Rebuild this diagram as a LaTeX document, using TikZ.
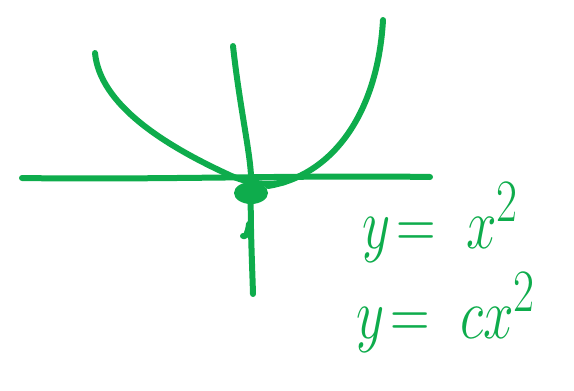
\documentclass[tikz,border=0pt]{standalone}
\usepackage{graphicx}
\definecolor{penGreen}{RGB}{14,172,76}
\newcommand{\bigInk}[1]{\scalebox{2.2}[2.9]{\Huge #1}}
\tikzset{
  pen/.style={draw=penGreen, line width=6pt, line cap=round, line join=round},
  ink/.style={text=penGreen, inner sep=0pt, anchor=base west}
}
\begin{document}
\begin{tikzpicture}[x=1pt, y=-1pt]
				\useasboundingbox (0,0) rectangle (574,391);
				\coordinate (O) at (251,182);
				\coordinate (XL) at (22,178);
				\coordinate (XR) at (430,177);
				\coordinate (YT) at (233,46);
				\coordinate (YB) at (253,294);
				\coordinate (PL) at (95,53);
				\coordinate (PR) at (383,20);
				% axes
				\draw[pen] (XL) .. controls (150,180) and (300,175) .. (XR);
				\draw[pen] (YT) .. controls (240,110) and (252,160) .. (O) .. controls (250,220) and (252,260) .. (YB);
				% parabola
				\draw[pen] (PL) .. controls (100,105) and (165,145) .. (225,173) .. controls (245,183) and (265,186) .. (285,182);
				\draw[pen] (268,186) .. controls (335,175) and (378,110) .. (PR);
				% blob at origin
				\fill[penGreen] (251,193) ellipse (17pt and 11pt);
				\draw[pen] (249,224) .. controls (248,232) and (246,238) .. (243,236);
				% labels
				\node[ink] (eqA) at (362,248) {\bigInk{$y\!=\;x^{2}$}};
				\node[ink] (eqB) at (356,338) {\bigInk{$y\!=\;cx^{2}$}};
			\end{tikzpicture}
\end{document}
